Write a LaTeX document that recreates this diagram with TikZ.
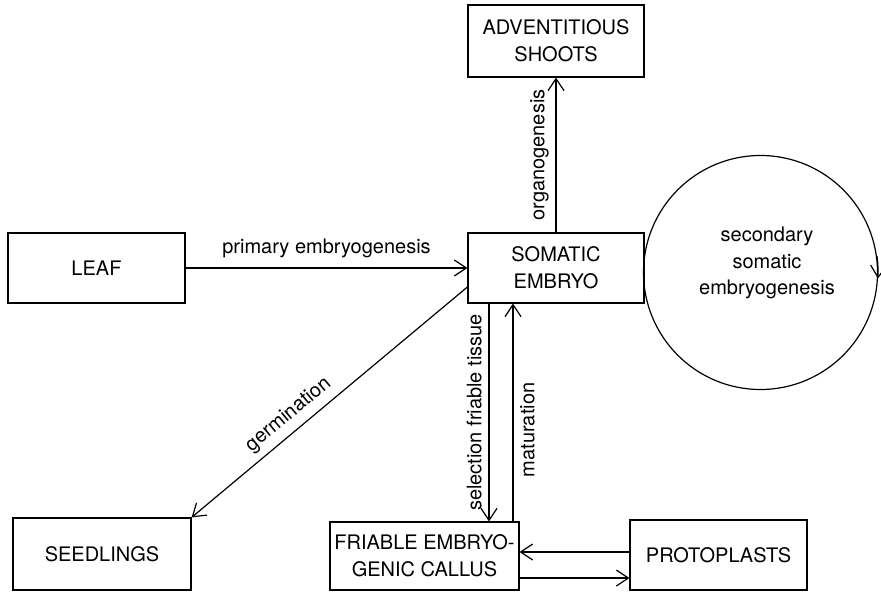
\documentclass[tikz,border=0pt]{standalone}
\usepackage{fontspec}
\setmainfont{TeX Gyre Heros}
\usetikzlibrary{arrows.meta}

\begin{document}
\begin{tikzpicture}[
      x=0.5pt, y=-0.5pt,
      font=\fontsize{10}{13.5}\selectfont,
      box/.style={draw, line width=0.6pt, align=center, inner sep=1pt, minimum width=88pt, minimum height=35pt},
      >={Straight Barb[length=6pt, width=8pt]},
      every path/.style={line width=0.6pt}
    ]
    \useasboundingbox (0,0) rectangle (881,592);
    \node[box, minimum height=36pt] (shoots) at (556,41) {ADVENTITIOUS\\SHOOTS};
    \node[box] (somatic) at (556,268) {SOMATIC\\EMBRYO};
    \node[box, minimum width=88.5pt] (leaf) at (96.5,268) {LEAF};
    \node[box, minimum width=89pt, minimum height=36pt] (seedlings) at (102,554) {SEEDLINGS};
    \node[box, minimum width=94.5pt, minimum height=34pt] (callus) at (424.5,556) {FRIABLE EMBRYO-\\GENIC CALLUS};
    \node[box, minimum width=88.5pt] (protoplasts) at (718.5,555) {PROTOPLASTS};
    \node[draw, circle, line width=0.6pt, minimum size=117pt, inner sep=0pt] (loop) at (760.5,272.5) {};
    \node[align=center, font=\fontsize{10}{13.25}\selectfont] (looptext) at (767,263) {secondary\\somatic\\embryogenesis};

    \draw[->] (leaf) -- node[above, yshift=1.5pt] {primary embryogenesis} (somatic);
    \draw[->] (somatic.north) -- node[above, sloped] {organogenesis} (shoots.south);
    \draw[<-] (seedlings.north east) -- node[pos=0.39, above, sloped] {germination} ([yshift=-9.5pt]somatic.west);
    \draw[<-] ([xshift=-33.5pt]somatic.south |- callus.north) -- node[midway, above, sloped] {selection friable tissue} ([xshift=-33.5pt]somatic.south);
    \draw[->] ([xshift=-21.5pt]somatic.south |- callus.north) -- node[pos=0.42, below, sloped] {maturation} ([xshift=-21.5pt]somatic.south);
    \draw[->] ([yshift=1.5pt]protoplasts.west) -- ([yshift=1.5pt]protoplasts.west -| callus.east);
    \draw[->] ([yshift=-11pt]callus.east) -- ([yshift=-11pt]callus.east -| protoplasts.west);
    \draw[->] (loop.8) arc[start angle=8, end angle=-3, radius=58.5pt];
  \end{tikzpicture}
\end{document}
